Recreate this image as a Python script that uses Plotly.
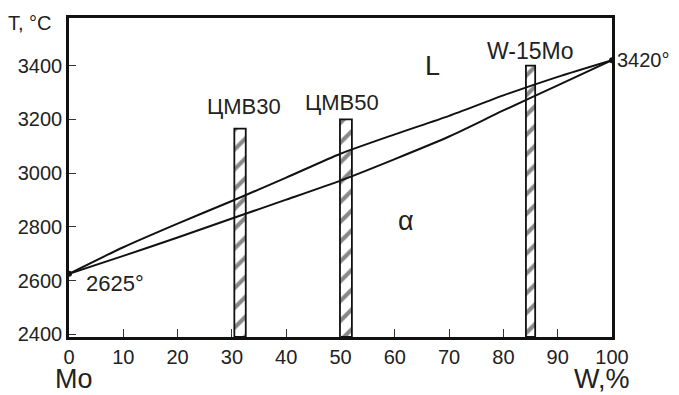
import plotly.graph_objects as go

# Data
w_pct = [0, 10, 20, 30, 40, 50, 60, 70, 80, 90, 100]
liquidus = [2625, 2724, 2812, 2896, 2983, 3072, 3144, 3213, 3289, 3358, 3420]
solidus = [2625, 2692, 2760, 2831, 2901, 2972, 3052, 3136, 3233, 3326, 3420]

alloy_names = ["ЦМВ30", "ЦМВ50", "W-15Mo"]
alloy_x = [31.5, 51.0, 85.0]
alloy_width = [2.1, 2.2, 1.7]
alloy_top = [3165, 3200, 3400]
y_base = 2390

x_ticks = [0, 10, 20, 30, 40, 50, 60, 70, 80, 90, 100]
y_ticks = [2400, 2600, 2800, 3000, 3200, 3400]

FONT = "Arial, Liberation Sans, sans-serif"

fig = go.Figure()

fig.add_trace(go.Bar(
    x=alloy_x,
    y=[t - y_base for t in alloy_top],
    base=y_base,
    width=alloy_width,
    marker=dict(
        color="white",
        line=dict(color="#111", width=1.8),
        pattern=dict(shape="/", fgcolor="#111", bgcolor="white", size=14, solidity=0.3),
    ),
    showlegend=False,
    hoverinfo="skip",
))

for ys in (liquidus, solidus):
    fig.add_trace(go.Scatter(
        x=w_pct, y=ys, mode="lines",
        line=dict(color="#111", width=2, shape="spline", smoothing=0.6),
        showlegend=False, hoverinfo="skip",
    ))

fig.add_trace(go.Scatter(
    x=[w_pct[0], w_pct[-1]], y=[liquidus[0], liquidus[-1]], mode="markers",
    marker=dict(color="#111", size=6), showlegend=False, cliponaxis=False,
    hoverinfo="skip",
))

annots = [
    dict(x=alloy_x[0], y=alloy_top[0], text=alloy_names[0], yshift=22, xshift=4),
    dict(x=alloy_x[1], y=alloy_top[1], text=alloy_names[1], yshift=17, xshift=-4),
    dict(x=alloy_x[2], y=alloy_top[2], text=alloy_names[2], yshift=15, font=dict(size=23)),
    dict(x=100, y=3420, text="3420°", xanchor="left", xshift=3, font=dict(size=20)),
    dict(x=0, y=2625, text="2625°", xanchor="left", xshift=15, yshift=-10),
    dict(x=67, y=3400, text="L", font=dict(size=27), yshift=0),
    dict(x=62.0, y=2822, text="α", font=dict(size=27)),
]
for a in annots:
    f = dict(family=FONT, size=22, color="#222")
    f.update(a.pop("font", {}))
    fig.add_annotation(showarrow=False, font=f, **a)

fig.add_annotation(xref="paper", yref="paper", x=-0.072, y=0.985, text="T, °C",
                   showarrow=False, xanchor="center", yanchor="middle",
                   font=dict(family=FONT, size=20, color="#222"))
fig.add_annotation(xref="paper", yref="paper", x=0.009, y=-0.133, text="Mo",
                   showarrow=False, xanchor="center", yanchor="middle",
                   font=dict(family=FONT, size=27, color="#222"))
fig.add_annotation(xref="paper", yref="paper", x=0.982, y=-0.133, text="W,%",
                   showarrow=False, xanchor="center", yanchor="middle",
                   font=dict(family=FONT, size=27, color="#222"))

fig.update_layout(
    width=671, height=387,
    margin=dict(l=61, r=67, t=7, b=58),
    paper_bgcolor="white", plot_bgcolor="white",
    barmode="overlay",
    font=dict(family=FONT, size=20, color="#222"),
)
fig.update_xaxes(
    range=[0, 100], tickvals=x_ticks, showgrid=False, zeroline=False,
    showline=True, linecolor="#111", linewidth=2.5, mirror=True,
    ticks="inside", ticklen=8, tickwidth=1, tickcolor="#333",
    tickfont=dict(family=FONT, size=20, color="#222"),
)
fig.update_yaxes(
    range=[y_base, 3577], tickvals=y_ticks, showgrid=False, zeroline=False,
    showline=True, linecolor="#111", linewidth=2.5, mirror=True,
    ticks="inside", ticklen=7, tickwidth=1, tickcolor="#333",
    tickfont=dict(family=FONT, size=20, color="#222"),
)

fig.write_html("out.html")
